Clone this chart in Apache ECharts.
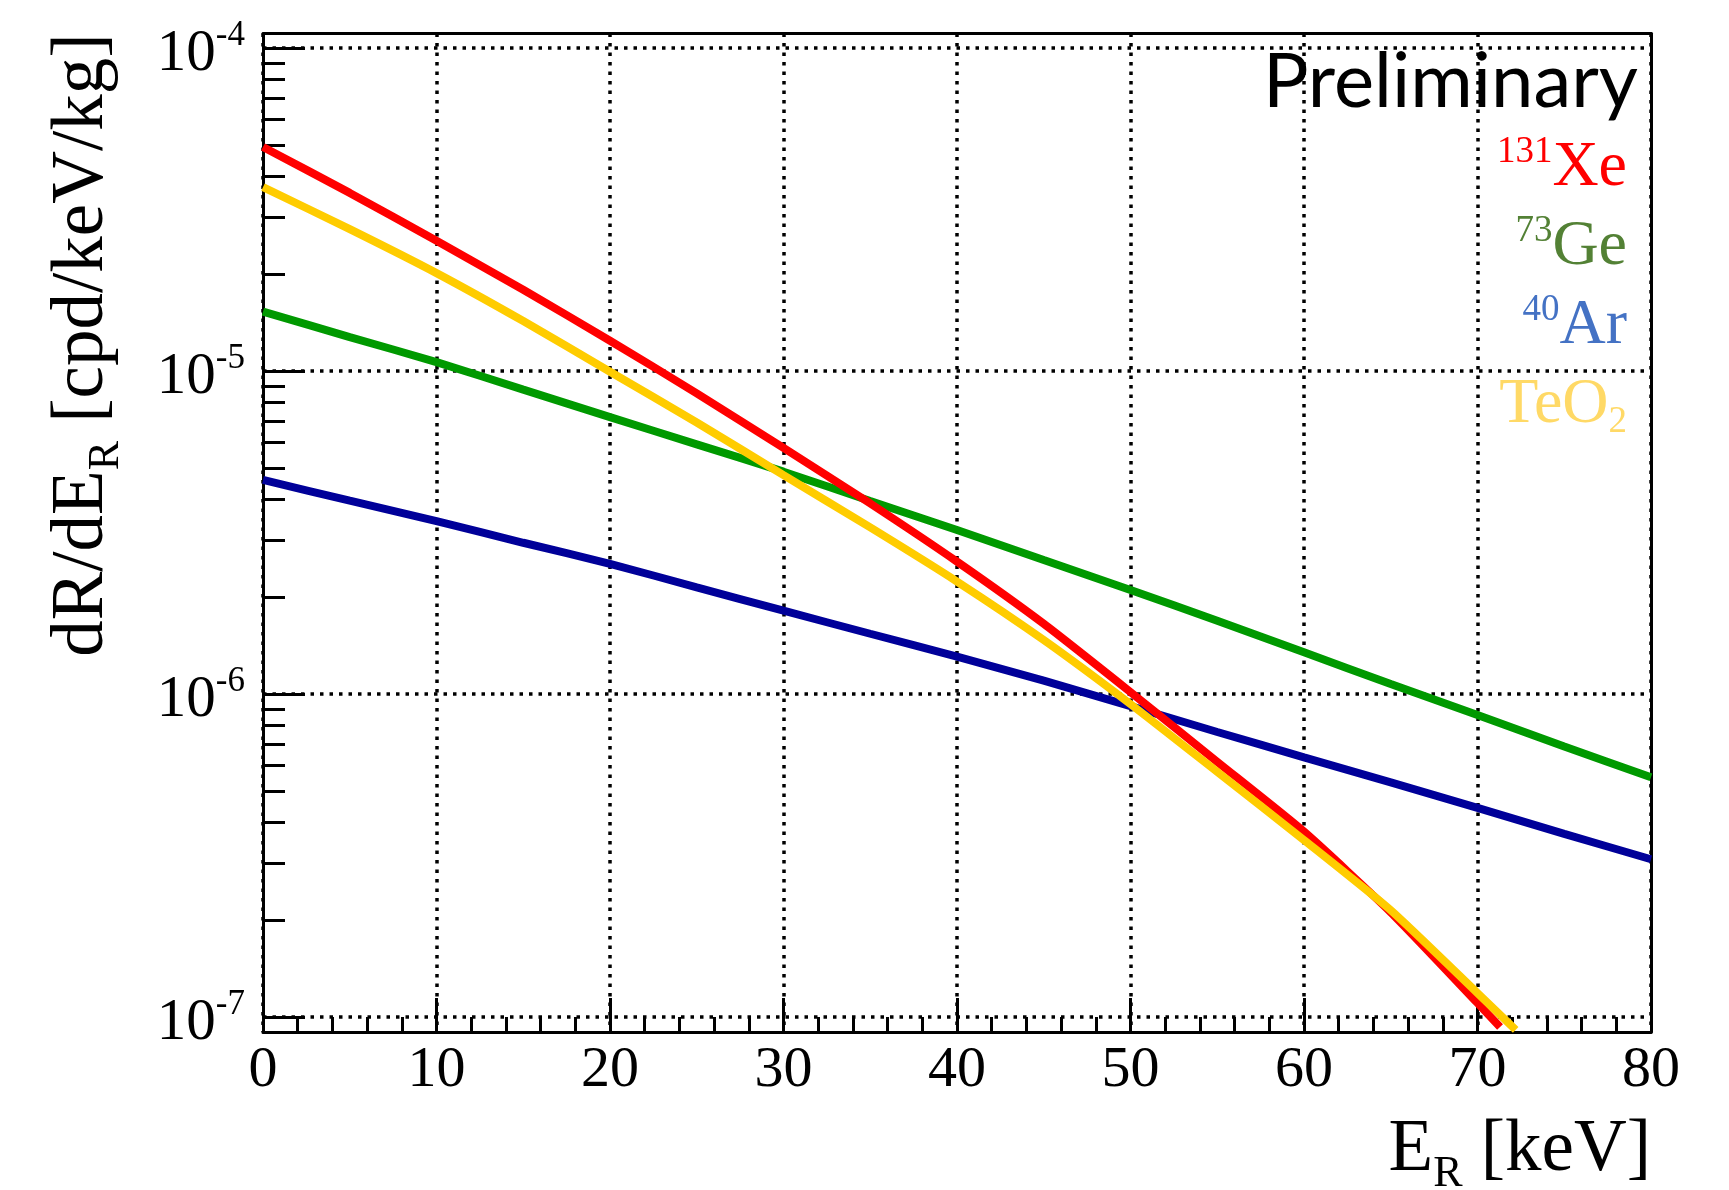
<!DOCTYPE html>
<html>
<head>
<meta charset="utf-8">
<script src="https://cdn.jsdelivr.net/npm/echarts@6/dist/echarts.min.js"></script>
<style>html,body{margin:0;padding:0;background:#fff}#c{width:1729px;height:1190px}</style>
</head>
<body>
<div id="c"></div>
<script>
// ---- data ----
const energyXe   = [0,5,10,15,20,25,30,35,40,45,50,55,60,65,70,71.3];
const rateXe     = [4.94e-5,3.56e-5,2.53e-5,1.785e-5,1.241e-5,8.53e-6,5.78e-6,3.89e-6,2.57e-6,1.65e-6,1.014e-6,6.17e-7,3.75e-7,2.11e-7,1.105e-7,9.31e-8];
const energyTeO2 = [0,5,10,15,20,25,30,35,40,45,50,55,60,65,70,72.2];
const rateTeO2   = [3.71e-5,2.75e-5,2.01e-5,1.428e-5,9.95e-6,6.93e-6,4.76e-6,3.28e-6,2.23e-6,1.47e-6,9.31e-7,5.74e-7,3.53e-7,2.14e-7,1.186e-7,9.12e-8];
const energyGe   = [0,5,10,15,20,25,30,35,40,45,50,55,60,65,70,75,80];
const rateGe     = [1.527e-5,1.274e-5,1.066e-5,8.76e-6,7.20e-6,5.93e-6,4.88e-6,3.96e-6,3.22e-6,2.60e-6,2.10e-6,1.686e-6,1.346e-6,1.075e-6,8.61e-7,6.88e-7,5.53e-7];
const energyAr   = [0,5,10,15,20,25,30,35,40,45,50,55,60,65,70,75,80];
const rateAr     = [4.60e-6,3.97e-6,3.43e-6,2.94e-6,2.53e-6,2.14e-6,1.811e-6,1.537e-6,1.305e-6,1.10e-6,9.18e-7,7.63e-7,6.37e-7,5.33e-7,4.44e-7,3.69e-7,3.08e-7];

const xRange = [0, 80];
const xTickStep = 10;
const yRange = [8.99e-8, 1.109e-4];
const yDecades = [1e-7, 1e-6, 1e-5, 1e-4];
const yMinorMultipliers = [2,3,4,5,6,7,8,9];

const labelsText = {
  xe: ['131', 'Xe'],
  ge: ['73', 'Ge'],
  ar: ['40', 'Ar'],
  teo2: ['TeO', '2']
};

// ---- helpers ----
const L = v => Math.log10(v);
const toPts = (xs, ys) => xs.map((x, i) => [x, L(ys[i])]);
const decadeLogs = yDecades.map(L);
const minorLogs = [];
yDecades.forEach(d => yMinorMultipliers.forEach(k => {
  const v = L(d * k);
  if (v > L(yRange[0]) && v < L(yRange[1])) minorLogs.push(v);
}));

const SERIF = 'Liberation Serif';
const BLACK = '#000';
const frameLine = {show: true, lineStyle: {color: BLACK, width: 3}};
const dotted = {show: true, lineStyle: {color: BLACK, width: 3.5, type: [3.5, 6]}};

function lineSeries(name, pts, color) {
  return {
    type: 'line', name, data: pts, showSymbol: false, symbol: 'none',
    smooth: 0.2, clip: true,
    lineStyle: {color, width: 8},
    xAxisIndex: 0, yAxisIndex: 0, silent: true
  };
}

const chart = echarts.init(document.getElementById('c'), null, {renderer: 'canvas'});
chart.setOption({
  animation: false,
  backgroundColor: '#fff',
  grid: {left: 263, right: 78, top: 33.5, bottom: 158, containLabel: false, outerBoundsMode: 'none'},
  xAxis: [
    {
      type: 'value', position: 'bottom', min: xRange[0], max: xRange[1], interval: xTickStep,
      axisLine: frameLine,
      axisTick: {show: true, inside: true, length: 34, lineStyle: {color: BLACK, width: 3}},
      minorTick: {show: true, splitNumber: 5, length: 15, lineStyle: {color: BLACK, width: 3}},
      splitLine: dotted,
      axisLabel: {show: true, color: BLACK, fontFamily: SERIF, fontSize: 58, margin: 10}
    },
    {
      type: 'value', position: 'top', min: xRange[0], max: xRange[1],
      axisLine: frameLine, axisTick: {show: false}, axisLabel: {show: false}, splitLine: {show: false}
    }
  ],
  yAxis: [
    {
      type: 'value', position: 'left', min: L(yRange[0]), max: L(yRange[1]),
      axisLine: frameLine,
      axisTick: {show: true, inside: true, length: 42, customValues: decadeLogs, lineStyle: {color: BLACK, width: 3}},
      splitLine: dotted,
      axisLabel: {
        show: true, customValues: decadeLogs, margin: 18,
        formatter: v => '{b|10}{s|' + Math.round(v) + '}',
        rich: {
          b: {fontFamily: SERIF, fontSize: 59, height: 82, lineHeight: 70, verticalAlign: 'top', color: BLACK},
          s: {fontFamily: SERIF, fontSize: 35, height: 46, lineHeight: 1, verticalAlign: 'top', color: BLACK}
        }
      }
    },
    {
      type: 'value', position: 'left', min: L(yRange[0]), max: L(yRange[1]),
      axisLine: {show: false},
      axisTick: {show: true, inside: true, length: 22, customValues: minorLogs, lineStyle: {color: BLACK, width: 3}},
      axisLabel: {show: false}, splitLine: {show: false}
    },
    {
      type: 'value', position: 'right', min: L(yRange[0]), max: L(yRange[1]),
      axisLine: frameLine, axisTick: {show: false}, axisLabel: {show: false}, splitLine: {show: false}
    }
  ],
  series: [
    lineSeries('40Ar', toPts(energyAr, rateAr), '#000099'),
    lineSeries('73Ge', toPts(energyGe, rateGe), '#009900'),
    lineSeries('131Xe', toPts(energyXe, rateXe), '#ff0000'),
    lineSeries('TeO2', toPts(energyTeO2, rateTeO2), '#ffcc00')
  ],
  graphic: [
    {
      type: 'text', x: 1638, y: 44.6, silent: true,
      style: {text: 'Preliminary', fontFamily: 'Lato', fontSize: 76, fill: BLACK,
        align: 'right', textAlign: 'right', verticalAlign: 'top', textVerticalAlign: 'top'}
    },
    ...[['xe', '#ff0000', 137], ['ge', '#538135', 216], ['ar', '#4472c4', 295]].map(([k, col, y]) => ({
      type: 'text', x: 1627, y, silent: true,
      style: {
        text: '{sup|' + labelsText[k][0] + '}{big|' + labelsText[k][1] + '}',
        align: 'right', textAlign: 'right', verticalAlign: 'top', textVerticalAlign: 'top', fill: col,
        rich: {
          sup: {fontFamily: SERIF, fontSize: 37, height: 30, lineHeight: 1, verticalAlign: 'top', fill: col},
          big: {fontFamily: SERIF, fontSize: 64, height: 63, lineHeight: 63, verticalAlign: 'top', fill: col}
        }
      }
    })),
    {
      type: 'text', x: 1627, y: 374, silent: true,
      style: {
        text: '{big|' + labelsText.teo2[0] + '}{sub|' + labelsText.teo2[1] + '}',
        align: 'right', textAlign: 'right', verticalAlign: 'top', textVerticalAlign: 'top', fill: '#ffd966',
        rich: {
          big: {fontFamily: SERIF, fontSize: 64, height: 63, lineHeight: 63, verticalAlign: 'top', fill: '#ffd966'},
          sub: {fontFamily: SERIF, fontSize: 37, height: 97, lineHeight: 1, verticalAlign: 'top', fill: '#ffd966'}
        }
      }
    },
    {
      type: 'text', x: 1651, y: 1114, silent: true,
      style: {
        text: '{a|E}{r|R}{a| [keV]}',
        align: 'right', textAlign: 'right', verticalAlign: 'top', textVerticalAlign: 'top', fill: BLACK,
        rich: {
          a: {fontFamily: SERIF, fontSize: 73, height: 73, lineHeight: 73, verticalAlign: 'top', fill: BLACK},
          r: {fontFamily: SERIF, fontSize: 44, height: 121, lineHeight: 1, verticalAlign: 'top', fill: BLACK}
        }
      }
    },
    {
      type: 'text', x: 46, y: 33.5, rotation: Math.PI / 2, silent: true,
      style: {
        text: '{a|dR/dE}{r|R}{a| [cpd/keV/kg]}',
        align: 'right', textAlign: 'right', verticalAlign: 'top', textVerticalAlign: 'top', fill: BLACK,
        rich: {
          a: {fontFamily: SERIF, fontSize: 73, height: 73, lineHeight: 73, verticalAlign: 'top', fill: BLACK},
          r: {fontFamily: SERIF, fontSize: 44, height: 121, lineHeight: 1, verticalAlign: 'top', fill: BLACK}
        }
      }
    }
  ]
});
</script>
</body>
</html>
